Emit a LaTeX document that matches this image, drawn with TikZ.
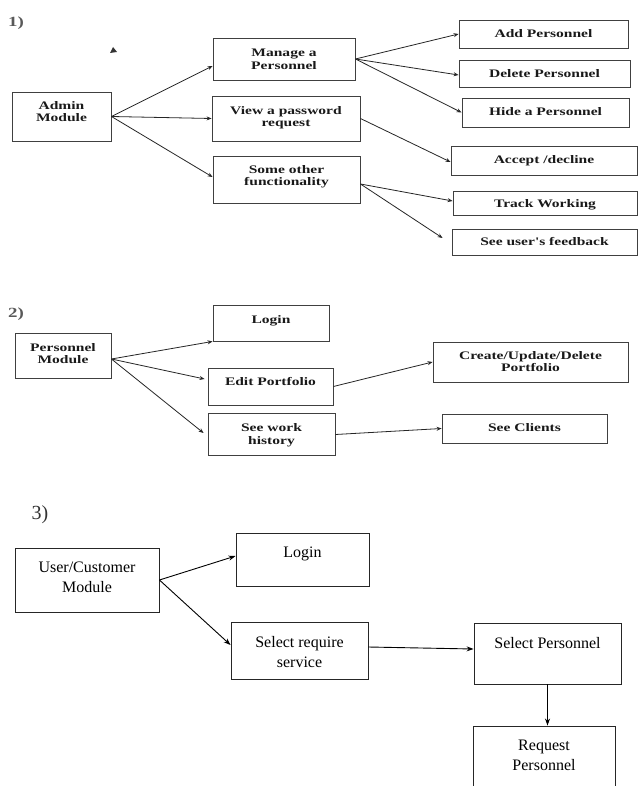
\documentclass[tikz,border=0pt]{standalone}
\usepackage{fontspec}
\setmainfont{Liberation Serif}
\newfontfamily\widefont[FakeStretch=1.35]{Liberation Serif}
\usetikzlibrary{arrows.meta}

\begin{document}
\begin{tikzpicture}[x=1pt,y=-1pt,
    modbox/.style={draw=black!75,line width=0.9pt,inner sep=0pt},
    smalltext/.style={font=\widefont\bfseries\fontsize{11.5}{12.5}\selectfont,align=center,anchor=north,inner sep=0pt,text=black!90,yshift=-9.5pt},
    bigtext/.style={font=\fontsize{16}{20}\selectfont,align=center,anchor=north,inner sep=0pt,yshift=-14.5pt},
    numtext/.style={font=\widefont\bfseries\fontsize{14}{15}\selectfont,text=black!65},
    link/.style={-{Stealth[length=5pt,width=4pt]},black!85,line width=0.8pt},
    biglink/.style={-{Stealth[length=7pt,width=5pt]},black,line width=0.9pt}]
  \useasboundingbox[fill=white] (0,0) rectangle (638,786);

  % 1) admin module
  \node[numtext] (num1) at (16,23) {1)};
  \fill[black!80] (110,53) -- (113,47) -- (117,52) -- cycle;
  \node[modbox,minimum width=99pt,minimum height=49pt] (adm) at (61.5,116.5) {};
  \node[smalltext] (admT) at (adm.north) {Admin\\Module};
  \node[modbox,minimum width=142pt,minimum height=42pt] (mng) at (284,59) {};
  \node[smalltext,yshift=-2pt] (mngT) at (mng.north) {Manage a\\Personnel};
  \node[modbox,minimum width=148pt,minimum height=45pt] (view) at (286,118.5) {};
  \node[smalltext,yshift=-1pt] (viewT) at (view.north) {View a password\\request};
  \node[modbox,minimum width=147pt,minimum height=47pt] (some) at (286.5,179.5) {};
  \node[smalltext] (someT) at (some.north) {Some other\\functionality};
  \node[modbox,minimum width=169pt,minimum height=28pt] (add) at (543.5,34) {};
  \node[smalltext] (addT) at (add.north) {Add Personnel};
  \node[modbox,minimum width=171pt,minimum height=27pt] (del) at (544.5,73.5) {};
  \node[smalltext] (delT) at (del.north) {Delete Personnel};
  \node[modbox,minimum width=167pt,minimum height=29pt] (hide) at (545.5,112.5) {};
  \node[smalltext] (hideT) at (hide.north) {Hide a Personnel};
  \node[modbox,minimum width=186pt,minimum height=29pt] (acc) at (544,160.5) {};
  \node[smalltext] (accT) at (acc.north) {Accept /decline};
  \node[modbox,minimum width=184pt,minimum height=24pt] (track) at (545,203) {};
  \node[smalltext,yshift=1pt] (trackT) at (track.north) {Track Working};
  \node[modbox,minimum width=185pt,minimum height=26pt] (feed) at (544.5,242) {};
  \node[smalltext,yshift=1pt] (feedT) at (feed.north) {See user's feedback};

  \draw[link] (adm.east) -- ([yshift=-7pt]mng.west);
  \draw[link] (adm.east) -- (view.west);
  \draw[link] (adm.east) -- ([yshift=2.5pt]some.west);
  \draw[link] (mng.east) -- (add.west);
  \draw[link] (mng.east) -- ([yshift=-1.5pt]del.west);
  \draw[link] (mng.east) -- (hide.west);
  \draw[link] (view.east) -- ([yshift=-1.5pt]acc.west);
  \draw[link] ([yshift=-4.5pt]some.east) -- ([yshift=2pt]track.west);
  \draw[link] ([yshift=-4.5pt]some.east) -- ([xshift=-9pt,yshift=4pt]feed.west);

  % 2) personnel module
  \node[numtext] (num2) at (16,314) {2)};
  \node[modbox,minimum width=96pt,minimum height=45pt] (pers) at (63,355.5) {};
  \node[smalltext,yshift=-1pt] (persT) at (pers.north) {Personnel\\Module};
  \node[modbox,minimum width=116pt,minimum height=36pt] (login2) at (271,323) {};
  \node[smalltext,yshift=-1pt] (login2T) at (login2.north) {Login};
  \node[modbox,minimum width=125pt,minimum height=37pt] (edit) at (270.5,386.5) {};
  \node[smalltext] (editT) at (edit.north) {Edit Portfolio};
  \node[modbox,minimum width=127pt,minimum height=42pt] (hist) at (271.5,434.5) {};
  \node[smalltext,yshift=-1pt] (histT) at (hist.north) {See work\\history};
  \node[modbox,minimum width=195pt,minimum height=40pt] (crud) at (530.5,362) {};
  \node[smalltext] (crudT) at (crud.north) {Create/Update/Delete\\Portfolio};
  \node[modbox,minimum width=165pt,minimum height=29pt] (cli) at (524.5,428.5) {};
  \node[smalltext] (cliT) at (cli.north) {See Clients};

  \draw[link] ([yshift=-3.5pt]pers.east) -- (login2.south west);
  \draw[link] ([yshift=-3.5pt]pers.east) -- ([xshift=-3pt,yshift=7.5pt]edit.west);
  \draw[link] ([yshift=-3.5pt]pers.east) -- ([xshift=-4pt,yshift=1.5pt]hist.west);
  \draw[link] (edit.east) -- (crud.west);
  \draw[link] (hist.east) -- (cli.west);

  % 3) user/customer module
  \node[font=\fontsize{20}{22}\selectfont,text=black!80] (num3) at (40,515) {3)};
  \node[modbox,draw=black!85,minimum width=144pt,minimum height=64pt] (usr) at (87,580) {};
  \node[bigtext] (usrT) at (usr.north) {User/Customer\\Module};
  \node[modbox,draw=black!85,minimum width=133pt,minimum height=53pt] (login3) at (302.5,559.5) {};
  \node[bigtext] (login3T) at (login3.north) {Login};
  \node[modbox,draw=black!85,minimum width=137pt,minimum height=57pt] (svc) at (299.5,650.5) {};
  \node[bigtext] (svcT) at (svc.north) {Select require\\service};
  \node[modbox,draw=black!85,minimum width=147pt,minimum height=61pt] (selp) at (547.5,653.5) {};
  \node[bigtext] (selpT) at (selp.north) {Select Personnel};
  \node[modbox,draw=black!85,minimum width=142pt,minimum height=74pt] (req) at (544,763) {};
  \node[bigtext] (reqT) at (req.north) {Request\\Personnel};

  \draw[biglink] (usr.east) -- ([yshift=3.5pt]login3.west);
  \draw[biglink] (usr.east) -- ([yshift=5.5pt]svc.west);
  \draw[biglink] ([yshift=3.5pt]svc.east) -- ([yshift=4.5pt]selp.west);
  \draw[biglink] (selp.south) -- (selp.south |- req.north);
\end{tikzpicture}
\end{document}
